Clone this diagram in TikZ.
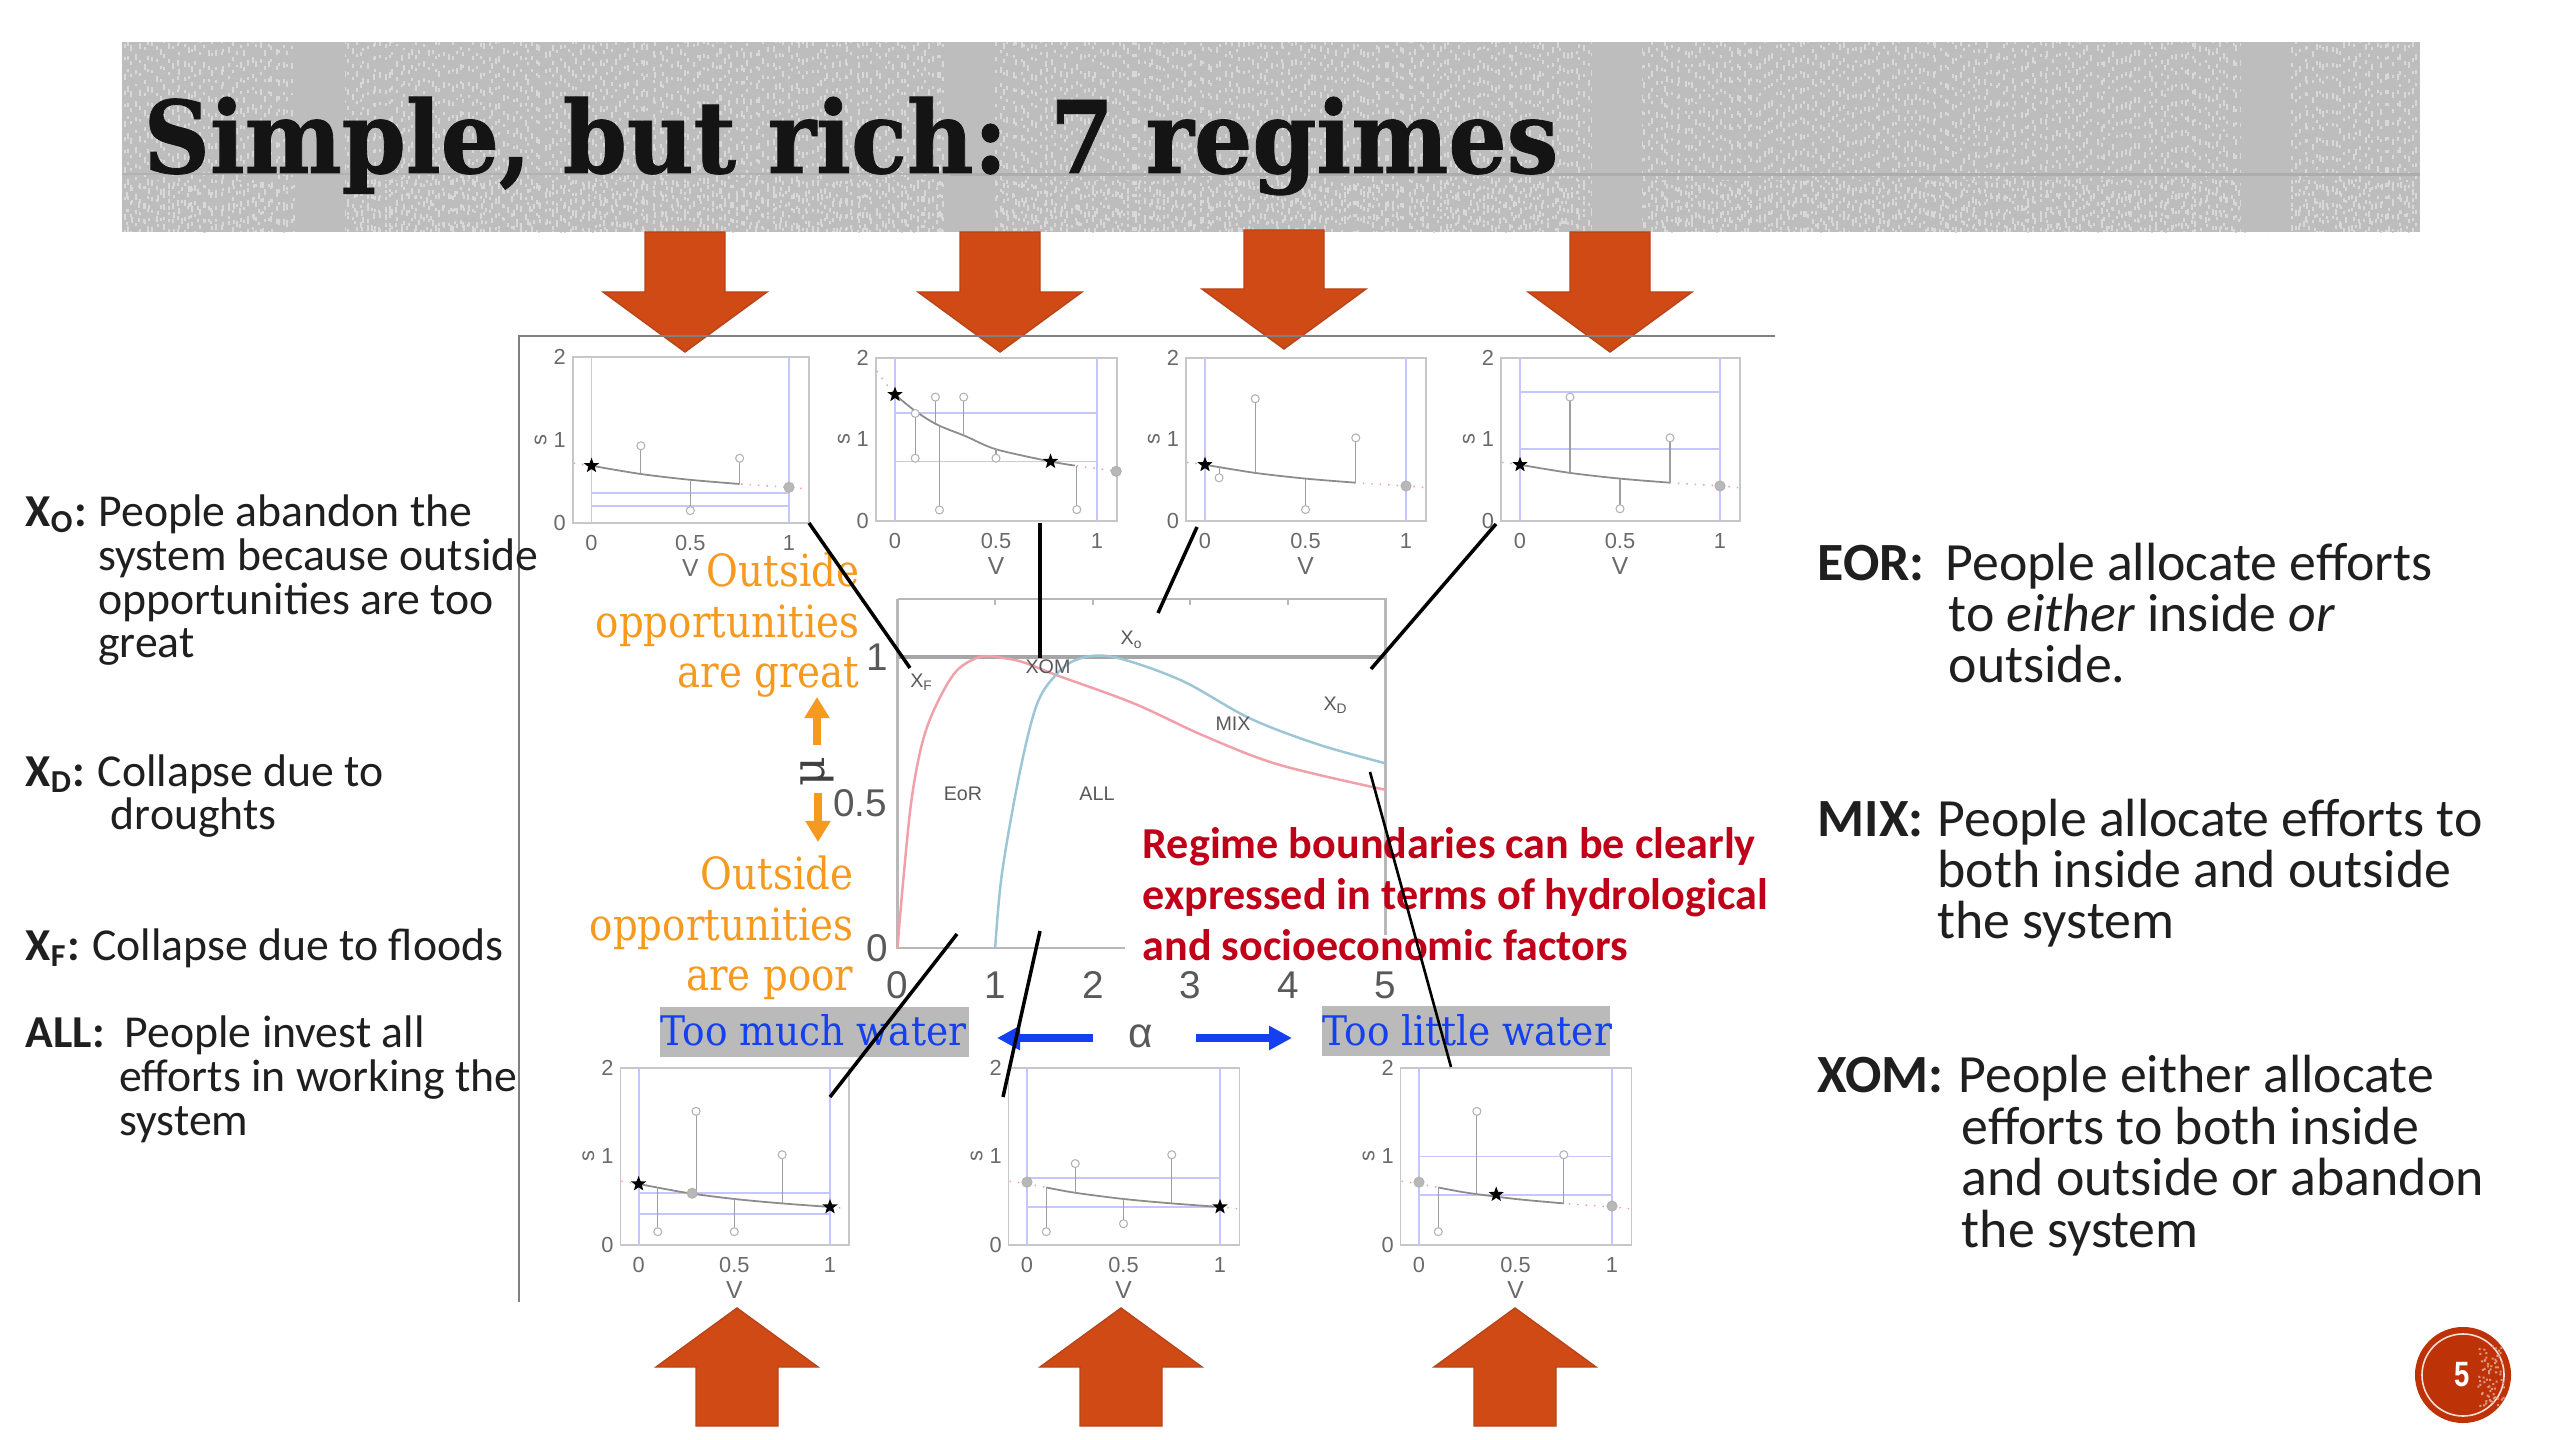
\documentclass[tikz,border=0pt]{standalone}
\usepackage{fontspec}
\setmainfont{Carlito}
\newfontfamily\slabtitle[FakeStretch=0.915,FakeBold=0.8]{DejaVu Serif}
\newfontfamily\slaborange[FakeStretch=0.875]{DejaVu Serif}
\newfontfamily\slabblue[FakeStretch=0.92]{DejaVu Serif}
\newfontfamily\slab{DejaVu Serif}
\newfontfamily\plotf{Liberation Sans}
\newfontfamily\badgef[FakeStretch=0.78]{Liberation Sans}
\usetikzlibrary{arrows.meta,shapes.geometric}
\definecolor{arrowred}{HTML}{D04A16}
\definecolor{arrowedge}{HTML}{B8441A}
\definecolor{bannerbase}{HTML}{BDBDBD}
\definecolor{bannerlight}{HTML}{D8D8D8}
\definecolor{orangetxt}{HTML}{F59A1F}
\definecolor{bluetxt}{HTML}{1440F0}
\definecolor{redtxt}{HTML}{C00018}
\definecolor{ticktxt}{HTML}{6A6A6A}
\definecolor{badge}{HTML}{BE3208}
\definecolor{curvered}{HTML}{F0A0A8}
\definecolor{curveblue}{HTML}{9CC6D6}
\newcommand\fs[2]{\fontsize{#1}{#2}\selectfont}
\tikzset{
  bigarrow/.style={fill=arrowred,draw=arrowedge,line width=0.4pt},
  panelbox/.style={draw=black!22,line width=0.45pt},
  blueline/.style={draw=blue!50!white!45,line width=0.55pt},
  stemline/.style={draw=black!38,line width=0.3pt},
  opencirc/.style={draw=black!30,fill=white,line width=0.3pt},
  graycirc/.style={draw=black!30,fill=black!28,line width=0.3pt},
  dotcrv/.style={draw=red!60!white!70,line width=0.4pt,dotted},
  solidcrv/.style={draw=black!45,line width=0.5pt},
  starmark/.style={star,star points=5,star point ratio=2.4,fill=black,inner sep=0pt,minimum size=0.16cm},
  ticklab/.style={font=\plotf\fs{6.2}{7},text=ticktxt,inner sep=0pt},
  smalllab/.style={font=\plotf\fs{5.6}{6.5},text=black!65,inner sep=0pt},
  axlab/.style={font=\plotf\fs{11}{12},text=black!65,inner sep=0pt},
  leftbody/.style={font=\fs{13}{12.5},align=left,anchor=base west,inner sep=0pt,text=black!88},
  rightbody/.style={font=\fs{15.3}{14.6},align=left,anchor=base west,inner sep=0pt,text=black!88},
  orangebody/.style={font=\slaborange\fs{12.6}{14.5},align=right,anchor=base east,inner sep=0pt,text=orangetxt},
  bluebody/.style={font=\slabblue\fs{11.6}{14},anchor=base west,inner sep=0pt,text=bluetxt},
  connector/.style={draw=black,line width=1pt},
  thinconnector/.style={draw=black,line width=0.75pt},
  frameline/.style={draw=black!50,line width=0.5pt},
  plotedge/.style={draw=black!28,line width=0.6pt},
  plottop/.style={draw=black!35,line width=1pt},
  speckle/.style={draw=bannerlight,line width=0.57pt,dash pattern=on 1.1pt off 2.6pt on 0.85pt off 4pt on 1.7pt off 3pt}
}
% down arrow: centre, top, tip
\newcommand\downarr[3]{\draw[bigarrow] (#1-40,#2) -- (#1+40,#2) -- (#1+40,#3-60) -- (#1+82,#3-60) -- (#1,#3) -- (#1-82,#3-60) -- (#1-40,#3-60) -- cycle;}
% up arrow: centre, tip, bottom
\newcommand\uparr[3]{\draw[bigarrow] (#1-41,#3) -- (#1+41,#3) -- (#1+41,#2+59) -- (#1+81,#2+59) -- (#1,#2) -- (#1-81,#2+59) -- (#1-41,#2+59) -- cycle;}
\newcommand\hb[1]{\draw[blueline] (0,#1) -- (1,#1);}
\newcommand\stem[3]{\draw[stemline] (#1,#2) -- (#1,#3); \draw[opencirc] (#1,#3) circle[radius=0.04cm];}
\newcommand\gc[2]{\draw[graycirc] (#1,#2) circle[radius=0.05cm];}
\newcommand\dotflat{\draw[dotcrv] plot[smooth] coordinates {(-.09,.72) (0,.69) (.25,.59) (.5,.52) (.75,.47) (1,.43) (1.09,.41)};}
\newcommand\lbl[2]{\makebox[#1][l]{\textbf{#2}}}
\newcommand\plotpanel[6]{%
  \pgfmathsetmacro\vu{(#3-#2)*0.01}%
  \pgfmathsetmacro\su{(#4-#5)/2*0.01}%
  \begin{scope}[shift={(#2,#4)},x=\vu cm,y=\su cm]
    \draw[panelbox] (-.095,0) rectangle (1.1,2);
    \draw[blueline] (0,0) -- (0,2);
    \draw[blueline] (1,0) -- (1,2);
    \node[ticklab,xshift=-0.13cm] (#1-y2) at (-.095,2) {2};
    \node[ticklab,xshift=-0.13cm] (#1-y1) at (-.095,1) {1};
    \node[ticklab,xshift=-0.13cm] (#1-y0) at (-.095,0) {0};
    \node[ticklab,xshift=-0.32cm,rotate=90] (#1-s) at (-.095,1) {s};
    \node[ticklab,yshift=-0.20cm] (#1-x0) at (0,0) {0};
    \node[ticklab,yshift=-0.20cm] (#1-x5) at (.5,0) {0.5};
    \node[ticklab,yshift=-0.20cm] (#1-x1) at (1,0) {1};
    \node[ticklab,yshift=-0.45cm,font=\plotf\fs{7}{8}] (#1-v) at (.5,0) {V};
    #6
  \end{scope}}
\begin{document}
\begin{tikzpicture}[x=0.01cm,y=-0.01cm]
\useasboundingbox (0,0) rectangle (2560,1440);
\fill[white] (0,0) rectangle (2560,1440);
% ---------- banner
\fill[bannerbase] (122,42) rectangle (2420,232);
\pgfmathsetseed{11}
\foreach \xx in {123,127,...,2415} {\pgfmathsetmacro\jx{\xx+rnd*3}\pgfmathsetmacro\ph{rnd*13.35}\draw[speckle,dash phase=\ph pt] (\jx,42) -- (\jx,232);}
\foreach \xx in {125,131,...,2415} {\pgfmathsetmacro\jx{\xx+rnd*3}\pgfmathsetmacro\ph{rnd*13.35}\draw[speckle,dash phase=\ph pt] (\jx,180) -- (\jx,232);}
\fill[bannerbase] (295,42) rectangle (345,232);
\fill[bannerbase] (944,42) rectangle (994,232);
\fill[bannerbase] (1592,42) rectangle (1642,232);
\fill[bannerbase] (2241,42) rectangle (2291,232);
\fill[black!32] (950,173) rectangle (2420,176);
\fill[black!30] (122,173) rectangle (950,175);
\node[anchor=base west,inner sep=0pt,font=\slabtitle\bfseries\fs{28.5}{30},text=black!92] (title) at (143,173) {Simple, but rich: 7 regimes};
% ---------- big arrows
\downarr{685}{232}{352}
\downarr{1000}{232}{352}
\downarr{1284}{230}{349}
\downarr{1610}{232}{352}
\uparr{737}{1308}{1426}
\uparr{1121}{1308}{1426}
\uparr{1515}{1308}{1426}
% ---------- frame
\draw[frameline] (1775,336) -- (519,336) -- (519,1302);
% ---------- panels
\plotpanel{pa}{591.5}{789}{523}{357}{
  \hb{.36}\hb{.21}\dotflat
  \draw[solidcrv] plot[smooth] coordinates {(0,.69) (.25,.59) (.5,.52) (.75,.47)};
  \stem{.25}{.59}{.93}\stem{.5}{.52}{.15}\stem{.75}{.47}{.78}
  \gc{1}{.43}
  \node[starmark] (pa-star) at (0,.69) {};}
\plotpanel{pb}{895}{1097}{521}{358}{
  \hb{1.32}\hb{.73}
  \draw[dotcrv] plot[smooth] coordinates {(-.09,1.84) (0,1.55) (.1,1.35) (.21,1.18) (.35,1.04) (.5,.88) (.77,.73) (.89,.68) (1.1,.61)};
  \draw[solidcrv] plot[smooth] coordinates {(0,1.55) (.1,1.35) (.21,1.18) (.35,1.04) (.5,.88) (.77,.73) (.89,.68)};
  \stem{.1}{1.32}{.77}\draw[opencirc] (.1,1.32) circle[radius=0.04cm];
  \stem{.2}{1.2}{1.52}\stem{.22}{1.18}{.135}\stem{.34}{1.04}{1.52}\stem{.5}{.88}{.77}\stem{.9}{.68}{.14}
  \gc{1.095}{.61}
  \node[starmark] (pb-star1) at (0,1.55) {};
  \node[starmark] (pb-star2) at (.77,.73) {};}
\plotpanel{pc}{1205}{1406}{521}{358}{
  \dotflat
  \draw[solidcrv] plot[smooth] coordinates {(0,.69) (.25,.59) (.5,.52) (.75,.47)};
  \stem{.07}{.66}{.53}\stem{.25}{.59}{1.5}\stem{.5}{.52}{.14}\stem{.75}{.47}{1.02}
  \gc{1}{.43}
  \node[starmark] (pc-star) at (0,.69) {};}
\plotpanel{pd}{1520}{1720}{521}{358}{
  \hb{1.58}\hb{.88}\dotflat
  \draw[solidcrv] plot[smooth] coordinates {(0,.69) (.25,.59) (.5,.52) (.75,.47)};
  \stem{.25}{.59}{1.52}\stem{.5}{.52}{.15}\stem{.75}{.47}{1.02}
  \gc{1}{.43}
  \node[starmark] (pd-star) at (0,.69) {};}
\plotpanel{pe}{638.6}{830}{1245}{1068}{
  \hb{.585}\hb{.35}\dotflat
  \draw[solidcrv] plot[smooth] coordinates {(0,.69) (.25,.59) (.5,.52) (.75,.47) (1,.43)};
  \stem{.1}{.65}{.15}\stem{.3}{.57}{1.51}\stem{.5}{.52}{.15}\stem{.75}{.47}{1.02}
  \gc{.28}{.585}
  \node[starmark] (pe-star1) at (0,.69) {};
  \node[starmark] (pe-star2) at (1,.43) {};}
\plotpanel{pf}{1027}{1220}{1245}{1068}{
  \hb{.76}\hb{.43}\dotflat
  \draw[solidcrv] plot[smooth] coordinates {(.1,.65) (.25,.59) (.5,.52) (.75,.47) (1,.43)};
  \stem{.1}{.65}{.15}\stem{.25}{.59}{.92}\stem{.5}{.52}{.24}\stem{.75}{.47}{1.02}
  \gc{0}{.71}
  \node[starmark] (pf-star) at (1,.43) {};}
\plotpanel{pg}{1419}{1612}{1245}{1068}{
  \hb{1}\hb{.57}\dotflat
  \draw[solidcrv] plot[smooth] coordinates {(.1,.65) (.25,.59) (.5,.52) (.75,.47)};
  \stem{.1}{.65}{.15}\stem{.3}{.57}{1.51}\stem{.75}{.47}{1.02}
  \gc{0}{.71}\gc{1}{.44}
  \node[starmark] (pg-star) at (.4,.57) {};}
% ---------- main plot
\draw[plotedge] (897.5,599) -- (1385.5,599) -- (1385.5,935);
\draw[plotedge] (897.5,599) -- (897.5,948) -- (1125,948);
\draw[plottop] (897.5,657) -- (1385.5,657);
\foreach \t in {995,1093,1190,1288} {\draw[plotedge] (\t,599) -- (\t,605);}
\begin{scope}[shift={(897.5,948)},x=0.976cm,y=2.91cm]
  \draw[draw=curvered,line width=0.7pt] plot[smooth,tension=.55] coordinates {(0,0) (.05,.2) (.14,.5) (.25,.7) (.39,.83) (.6,.95) (.85,1) (1.1,.995) (1.3,.98) (1.63,.937) (2.42,.84) (3.13,.73) (3.9,.63) (5,.543)};
  \draw[draw=curveblue,line width=0.7pt] plot[smooth,tension=.55] coordinates {(1,0) (1.07,.257) (1.25,.6) (1.42,.83) (1.6,.93) (1.83,.99) (2.2,1) (2.9,.92) (3.6,.79) (4.3,.70) (5,.634)};
\end{scope}
\node[axlab] (my1) at (877,657) {1};
\node[axlab] (my5) at (860,803) {0.5};
\node[axlab] (my0) at (877,948) {0};
\foreach \n/\t/\x in {a/0/897,b/1/995,c/2/1093,d/3/1190,e/4/1288,f/5/1385} {\node[axlab] (mx\n) at (\x,985) {\t};}
\node[smalllab] (lxf) at (922,682) {X\textsubscript{F}};
\node[smalllab] (lxom) at (1048,667) {XOM};
\node[smalllab] (lxo) at (1132,640) {X\textsubscript{o}};
\node[smalllab] (lxd) at (1336,705) {X\textsubscript{D}};
\node[smalllab] (lmix) at (1233,724) {MIX};
\node[smalllab] (leor) at (963,794) {EoR};
\node[smalllab] (lall) at (1097,794) {ALL};
% ---------- orange annotation
\node[orangebody] (ograt) at (860,688) {Outside\\opportunities\\are great};
\node[orangebody] (opoor) at (854,991) {Outside\\opportunities\\are poor};
\coordinate (oua) at (817,745); \coordinate (oub) at (817,697);
\coordinate (oda) at (818,793); \coordinate (odb) at (818,842);
\draw[draw=orangetxt,line width=2.4pt,-{Triangle[length=0.21cm,width=0.24cm]}] (oua) -- (oub);
\draw[draw=orangetxt,line width=2.4pt,-{Triangle[length=0.21cm,width=0.24cm]}] (oda) -- (odb);
\node[rotate=90,inner sep=0pt,font=\slab\fs{13}{14},text=black!75] (mulabel) at (817,772) {μ};
% ---------- blue annotation
\fill[black!27] (660,1007) rectangle (969,1057);
\fill[black!27] (1322,1006) rectangle (1610,1056);
\node[bluebody] (tmw) at (660,1045) {Too much water};
\node[bluebody] (tlw) at (1322,1045) {Too little water};
\node[inner sep=0pt,font=\plotf\fs{12}{14},text=black!65] (alphal) at (1141,1036) {α};
\coordinate (bla) at (1093,1038); \coordinate (blb) at (997,1038);
\coordinate (bra) at (1196,1038); \coordinate (brb) at (1292,1038);
\draw[draw=bluetxt,line width=2.3pt,-{Triangle[length=0.23cm,width=0.23cm]}] (bla) -- (blb);
\draw[draw=bluetxt,line width=2.3pt,-{Triangle[length=0.23cm,width=0.23cm]}] (bra) -- (brb);
% ---------- red annotation
\node[anchor=base west,align=left,inner sep=0pt,font=\bfseries\fs{12.55}{14.6},text=redtxt] (regime) at (1142,961) {Regime boundaries can be clearly\\expressed in terms of hydrological\\and socioeconomic factors};
% ---------- left text
\node[leftbody] (txo) at (25,658) {\lbl{20.8pt}{X\textsubscript{O}:}People abandon the\\\hspace*{20.6pt}system because outside\\\hspace*{20.6pt}opportunities are too\\\hspace*{20.6pt}great};
\node[leftbody] (txd) at (25,830) {\lbl{20.5pt}{X\textsubscript{D}:}Collapse due to\\\hspace*{24.2pt}droughts};
\node[leftbody] (txf) at (25,960) {\lbl{19pt}{X\textsubscript{F}:}Collapse due to floods};
\node[leftbody] (tall) at (25,1135) {\lbl{28.2pt}{ALL:}People invest all\\\hspace*{26.7pt}efforts in working the\\\hspace*{26.7pt}system};
% ---------- right text
\node[rightbody] (teor) at (1817,683) {\lbl{36.4pt}{EOR:}People allocate efforts\\\hspace*{37.3pt}to \textit{either} inside \textit{or}\\\hspace*{37.3pt}outside.};
\node[rightbody] (tmix) at (1817,939) {\lbl{34.1pt}{MIX:}People allocate efforts to\\\hspace*{34.1pt}both inside and outside\\\hspace*{34.1pt}the system};
\node[rightbody] (txom) at (1817,1247) {\lbl{40.1pt}{XOM:}People either allocate\\\hspace*{41pt}efforts to both inside\\\hspace*{41pt}and outside or abandon\\\hspace*{41pt}the system};
% ---------- connectors
\coordinate (ca1) at (809,523); \coordinate (ca2) at (910,668);
\coordinate (cb1) at (1040,523); \coordinate (cb2) at (1040,658);
\coordinate (cc1) at (1197,527); \coordinate (cc2) at (1158,613);
\coordinate (cd1) at (1496,524); \coordinate (cd2) at (1371,669);
\coordinate (ce1) at (957,934); \coordinate (ce2) at (830,1097);
\coordinate (cf1) at (1040,931); \coordinate (cf2) at (1003,1097);
\coordinate (cg1) at (1370,772); \coordinate (cg2) at (1451,1067);
\draw[connector] (ca1) -- (ca2);
\draw[connector] (cb1) -- (cb2);
\draw[connector] (cc1) -- (cc2);
\draw[connector] (cd1) -- (cd2);
\draw[connector] (ce1) -- (ce2);
\draw[connector] (cf1) -- (cf2);
\draw[thinconnector] (cg1) -- (cg2);
% ---------- page badge
\fill[badge] (2463,1375) circle[radius=0.48cm];
\draw[white!85!badge,line width=0.45pt] (2463,1375) circle[radius=0.41cm];
\pgfmathsetseed{5}
\fill[white!50!badge] \foreach \i [evaluate=\i as \xx using 2477+rnd*26, evaluate=\i as \yy using 1345+rnd*60] in {1,...,70} {(\xx,\yy) rectangle ++(2,2)};
\node[inner sep=0pt,font=\badgef\bfseries\fs{10}{11},text=white] (pageno) at (2462,1375) {5};
\end{tikzpicture}
\end{document}
